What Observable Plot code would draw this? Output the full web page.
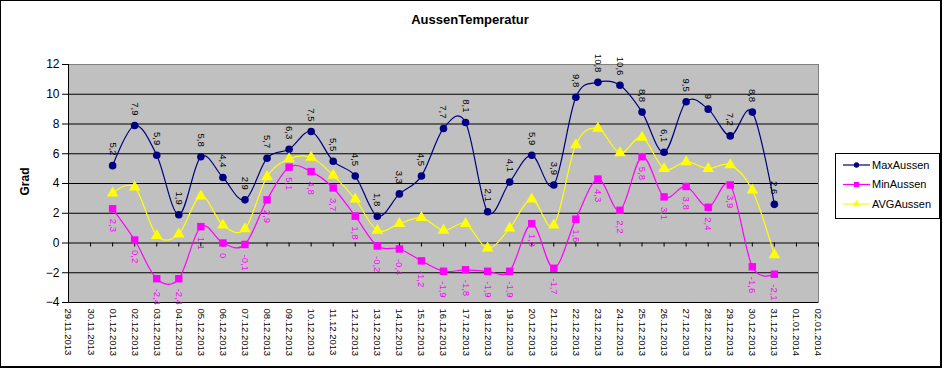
<!DOCTYPE html>
<html><head><meta charset="utf-8">
<script src="https://cdn.jsdelivr.net/npm/d3@7"></script>
<script src="https://cdn.jsdelivr.net/npm/@observablehq/plot@0.6"></script>
<style>
body{margin:0;background:#fff;font-family:"Liberation Sans",Arial,sans-serif;}
#chart{position:relative;width:943px;height:368px;overflow:hidden;}
#border{position:absolute;left:0;top:0;width:939px;height:365px;border:1px solid #000;border-right-width:2px;border-bottom-width:2px;pointer-events:none;}
#title{position:absolute;left:0;top:11px;width:940px;text-align:center;font-weight:bold;font-size:13px;line-height:18px;}
#plot{position:absolute;left:0;top:0;}
#legend{position:absolute;left:835px;top:153px;width:105px;height:66px;box-sizing:border-box;border:1px solid #000;background:#fff;}
</style></head>
<body>
<div id="chart">
  <div id="plot"></div>
  <div id="title">AussenTemperatur</div>
  <div id="legend"></div>
  <div id="border"></div>
</div>
<script>
const title = "AussenTemperatur";
const yLabel = "Grad";
const seriesNames = ["MaxAussen", "MinAussen", "AVGAussen"];
const seriesColors = ["#000080", "#FF00FF", "#FFFF00"];
const tickLabels = ["29.11.2013","30.11.2013","01.12.2013","02.12.2013","03.12.2013","04.12.2013","05.12.2013","06.12.2013","07.12.2013","08.12.2013","09.12.2013","10.12.2013","11.12.2013","12.12.2013","13.12.2013","14.12.2013","15.12.2013","16.12.2013","17.12.2013","18.12.2013","19.12.2013","20.12.2013","21.12.2013","22.12.2013","23.12.2013","24.12.2013","25.12.2013","26.12.2013","27.12.2013","28.12.2013","29.12.2013","30.12.2013","31.12.2013","01.01.2014","02.01.2014"];
const dates = ["01.12.2013","02.12.2013","03.12.2013","04.12.2013","05.12.2013","06.12.2013","07.12.2013","08.12.2013","09.12.2013","10.12.2013","11.12.2013","12.12.2013","13.12.2013","14.12.2013","15.12.2013","16.12.2013","17.12.2013","18.12.2013","19.12.2013","20.12.2013","21.12.2013","22.12.2013","23.12.2013","24.12.2013","25.12.2013","26.12.2013","27.12.2013","28.12.2013","29.12.2013","30.12.2013","31.12.2013"];
const maxAussen = [5.2,7.9,5.9,1.9,5.8,4.4,2.9,5.7,6.3,7.5,5.5,4.5,1.8,3.3,4.5,7.7,8.1,2.1,4.1,5.9,3.9,9.8,10.8,10.6,8.8,6.1,9.5,9,7.2,8.8,2.6];
const minAussen = [2.3,0.2,-2.4,-2.4,1.1,0,-0.1,2.9,5.1,4.8,3.7,1.8,-0.2,-0.4,-1.2,-1.9,-1.8,-1.9,-1.9,1.3,-1.7,1.6,4.3,2.2,5.8,3.1,3.8,2.4,3.9,-1.6,-2.1];
const avgAussen = [3.35,3.75,0.5,0.6,3.15,1.2,0.95,4.45,5.65,5.75,4.55,2.95,0.85,1.3,1.7,0.85,1.3,-0.35,1.0,2.95,1.2,6.6,7.7,6.05,7.1,5.0,5.45,5.0,5.25,3.55,-0.8];
const yTicks = [-4,-2,0,2,4,6,8,10,12];

const parse = d3.utcParse("%d.%m.%Y");
const fmt = d3.utcFormat("%d.%m.%Y");
const tickDates = tickLabels.map(parse);
const rows = dates.map((d, i) => ({date: parse(d), max: maxAussen[i], min: minAussen[i], avg: avgAussen[i]}));
const lbl = v => String(v).replace(".", ",");
const font = "'Liberation Sans', Arial, sans-serif";

const plot = Plot.plot({
  width: 943, height: 368,
  marginLeft: 68, marginRight: 125, marginTop: 64, marginBottom: 66,
  style: {fontFamily: font, fontSize: "10px", background: "transparent", overflow: "visible"},
  x: {type: "utc", domain: [tickDates[0], tickDates[tickDates.length - 1]]},
  y: {domain: [-4, 12]},
  marks: [
    Plot.frame({fill: "#c0c0c0", stroke: "#808080"}),
    Plot.ruleY(yTicks.filter(v => v < 12), {stroke: "#000", strokeWidth: 1}),
    Plot.ruleX([tickDates[0]], {stroke: "#000"}),
    Plot.ruleX(tickDates, {y1: 0, y2: -0.27, stroke: "#000"}),
    Plot.axisY({ticks: yTicks, tickSize: 6, tickPadding: 3, fontSize: 12, label: null, stroke: "#000"}),
    Plot.axisX({ticks: tickDates, tickFormat: fmt, tickRotate: 90, tickSize: 0, tickPadding: 6, fontSize: 9.5, label: null}),
    Plot.text([yLabel], {frameAnchor: "left", dx: -43, dy: 12, rotate: -90, fontWeight: "bold", fontSize: 12, fill: "#000"}),
    Plot.line(rows, {x: "date", y: "max", stroke: seriesColors[0], strokeWidth: 1.2, curve: "cardinal"}),
    Plot.dot(rows, {x: "date", y: "max", symbol: "circle", r: 3.8, fill: seriesColors[0]}),
    Plot.line(rows, {x: "date", y: "min", stroke: seriesColors[1], strokeWidth: 1.2, curve: "cardinal"}),
    Plot.dot(rows, {x: "date", y: "min", symbol: "square", r: 4.2, fill: seriesColors[1]}),
    Plot.line(rows, {x: "date", y: "avg", stroke: seriesColors[2], strokeWidth: 1.2, curve: "cardinal"}),
    Plot.dot(rows, {x: "date", y: "avg", symbol: "triangle", r: 4.3, fill: seriesColors[2]}),
    Plot.text(rows, {x: "date", y: "max", text: d => lbl(d.max), rotate: 90, textAnchor: "end", dy: -10, fontSize: 9.5, fill: "#000"}),
    Plot.text(rows, {x: "date", y: "min", text: d => lbl(d.min), rotate: 90, textAnchor: "start", dy: 10, fontSize: 9.5, fill: seriesColors[1]})
  ]
});
document.getElementById("plot").appendChild(plot);

// legend
const lsvg = d3.select("#legend").append("svg").attr("width", 103).attr("height", 64).style("display", "block");
const symbols = [d3.symbolCircle, d3.symbolSquare, d3.symbolTriangle];
const sizes = [22, 26, 24];
seriesNames.forEach((name, i) => {
  const y = 11 + i * 19.5;
  lsvg.append("line").attr("x1", 7).attr("x2", 34).attr("y1", y).attr("y2", y).attr("stroke", seriesColors[i]).attr("stroke-width", 1.2);
  lsvg.append("path").attr("d", d3.symbol(symbols[i], sizes[i])()).attr("transform", `translate(20.5,${y})`).attr("fill", seriesColors[i]);
  lsvg.append("text").attr("x", 36).attr("y", y).attr("dy", "0.35em").attr("font-size", 11).attr("font-family", font).text(name);
});
</script>
</body></html>
